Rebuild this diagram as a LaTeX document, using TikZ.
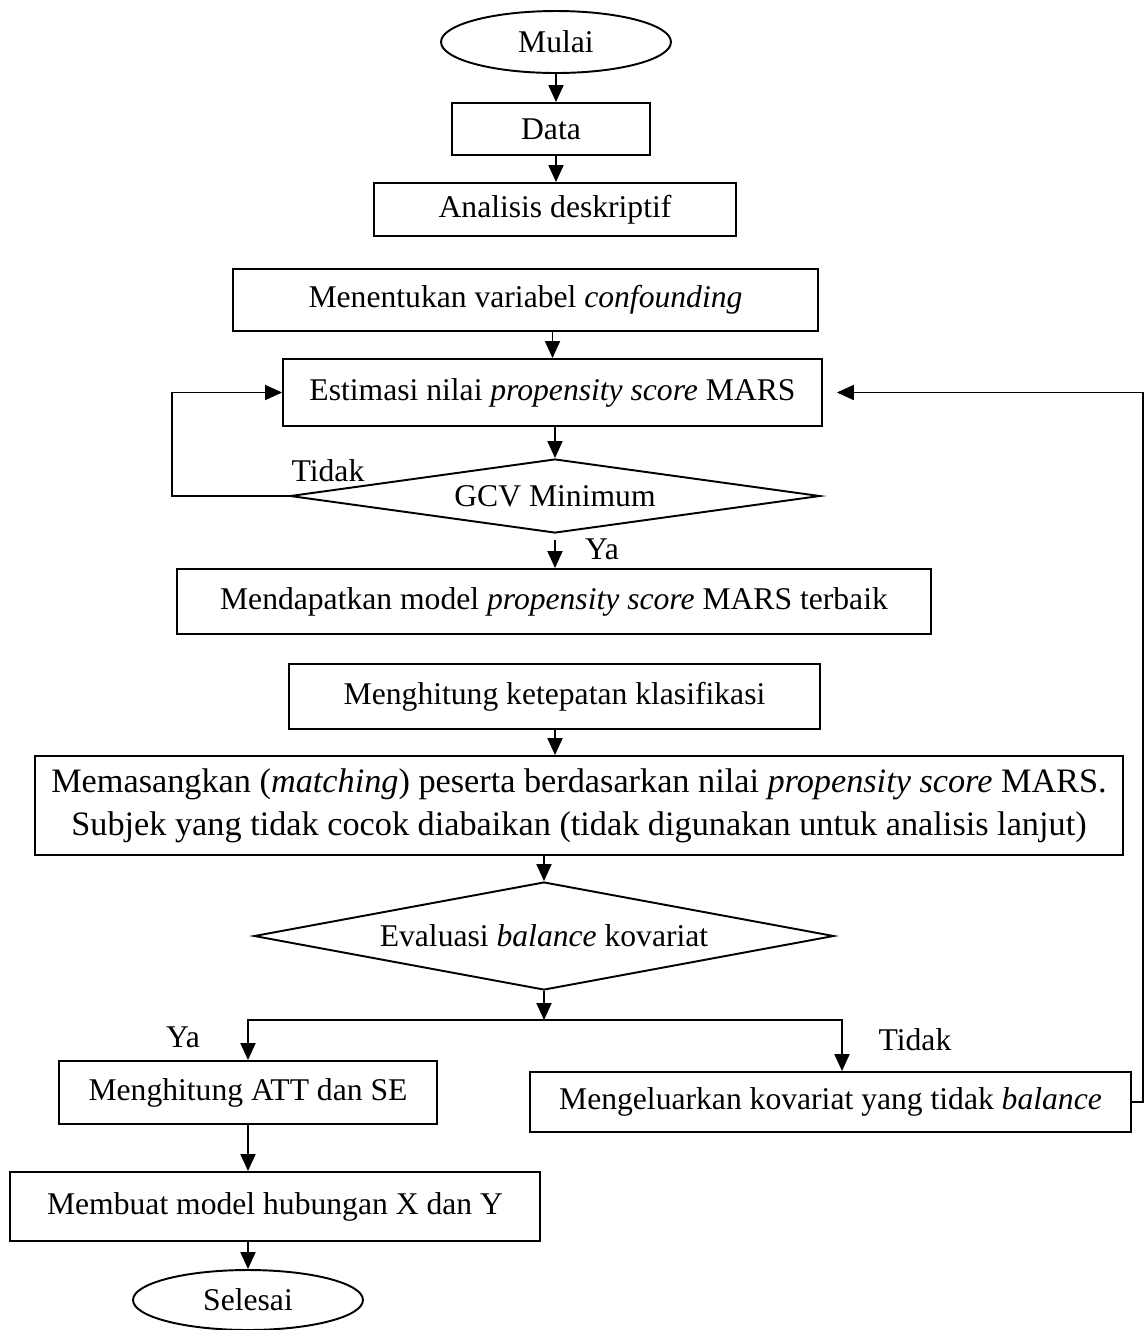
\documentclass[tikz,border=0pt]{standalone}
\usepackage{fontspec}
\setmainfont{Liberation Serif}
\usetikzlibrary{shapes.geometric,arrows.meta}

\begin{document}
\begin{tikzpicture}[x=0.02cm,y=0.02cm,line width=1.1pt,
    every node/.style={font=\fontsize{18}{23}\selectfont,inner sep=0pt},
    box/.style={draw,rectangle,align=center},
    term/.style={draw,ellipse},
    cond/.style={draw,diamond},
    arr/.style={-{Triangle[length=0.34cm,width=0.3cm]}}]
    \useasboundingbox (0,0) rectangle (1144,-1330);
    \node[term,minimum width=4.6cm,minimum height=1.24cm] (mulai) at (556,-42) {Mulai};
    \node[box,minimum width=3.96cm,minimum height=1.04cm] (data) at (551,-129) {Data};
    \node[box,minimum width=7.24cm,minimum height=1.06cm] (desk) at (555,-209.5) {Analisis deskriptif};
    \node[box,minimum width=11.7cm,minimum height=1.24cm] (conf) at (525.5,-300) {Menentukan variabel \textit{confounding}};
    \node[box,minimum width=10.78cm,minimum height=1.34cm] (est) at (552.5,-392.5) {Estimasi nilai \textit{propensity score} MARS};
    \node[cond,shape aspect=7,minimum width=10.6cm,minimum height=1.48cm] (gcv) at (555,-496) {GCV Minimum};
    \node[box,minimum width=15.08cm,minimum height=1.3cm] (best) at (554,-601.5) {Mendapatkan model \textit{propensity score} MARS terbaik};
    \node[box,minimum width=10.62cm,minimum height=1.3cm] (klas) at (554.5,-696.5) {Menghitung ketepatan klasifikasi};
    \node[box,minimum width=21.76cm,minimum height=1.98cm,font=\fontsize{19.5}{24.5}\selectfont] (match) at (579,-805.5) {Memasangkan (\textit{matching}) peserta berdasarkan nilai \textit{propensity score} MARS.\\Subjek yang tidak cocok diabaikan (tidak digunakan untuk analisis lanjut)};
    \node[cond,shape aspect=5.4,minimum width=11.6cm,minimum height=2.16cm] (eval) at (544,-936) {Evaluasi \textit{balance} kovariat};
    \node[box,minimum width=7.56cm,minimum height=1.26cm] (att) at (248,-1092.5) {Menghitung ATT dan SE};
    \node[box,minimum width=12.02cm,minimum height=1.2cm] (keluar) at (830.5,-1102) {Mengeluarkan kovariat yang tidak \textit{balance}};
    \node[box,minimum width=10.6cm,minimum height=1.38cm] (buat) at (275,-1206.5) {Membuat model hubungan X dan Y};
    \node[term,minimum width=4.6cm,minimum height=1.2cm] (selesai) at (248,-1300) {Selesai};
    \node (tidak1) at (328,-471) {Tidak};
    \node (ya1) at (602,-549) {Ya};
    \node (ya2) at (183,-1037) {Ya};
    \node (tidak2) at (915,-1040) {Tidak};
    \coordinate (split) at (544,-1020);
    \coordinate (kanan) at (842,-1020);
    \draw[arr] (mulai.south) -- (mulai.south |- data.north);
    \draw[arr] (mulai.south |- data.south) -- (mulai.south |- desk.north);
    \draw[arr] (est.north |- conf.south) -- (est.north);
    \draw[arr] (gcv.north |- est.south) -- (gcv.north);
    \draw[arr] (gcv.west) -- ++(-117,0) |- (est.west);
    \draw[arr,shorten <=0.12cm] (gcv.south) -- (gcv.south |- best.north);
    \draw[arr] (gcv.south |- klas.south) -- (gcv.south |- match.north);
    \draw[arr] (eval.north |- match.south) -- (eval.north);
    \draw[arr] (eval.south) -- (split);
    \draw[arr] (split) -| (att.north);
    \draw[arr] (split) -- (kanan) -- (kanan |- keluar.north);
    \draw[arr,shorten >=0.28cm] (keluar.east) -- ++(11,0) |- (est.east);
    \draw[arr] (att.south) -- (att.south |- buat.north);
    \draw[arr] (att.south |- buat.south) -- (selesai.north);
\end{tikzpicture}
\end{document}
